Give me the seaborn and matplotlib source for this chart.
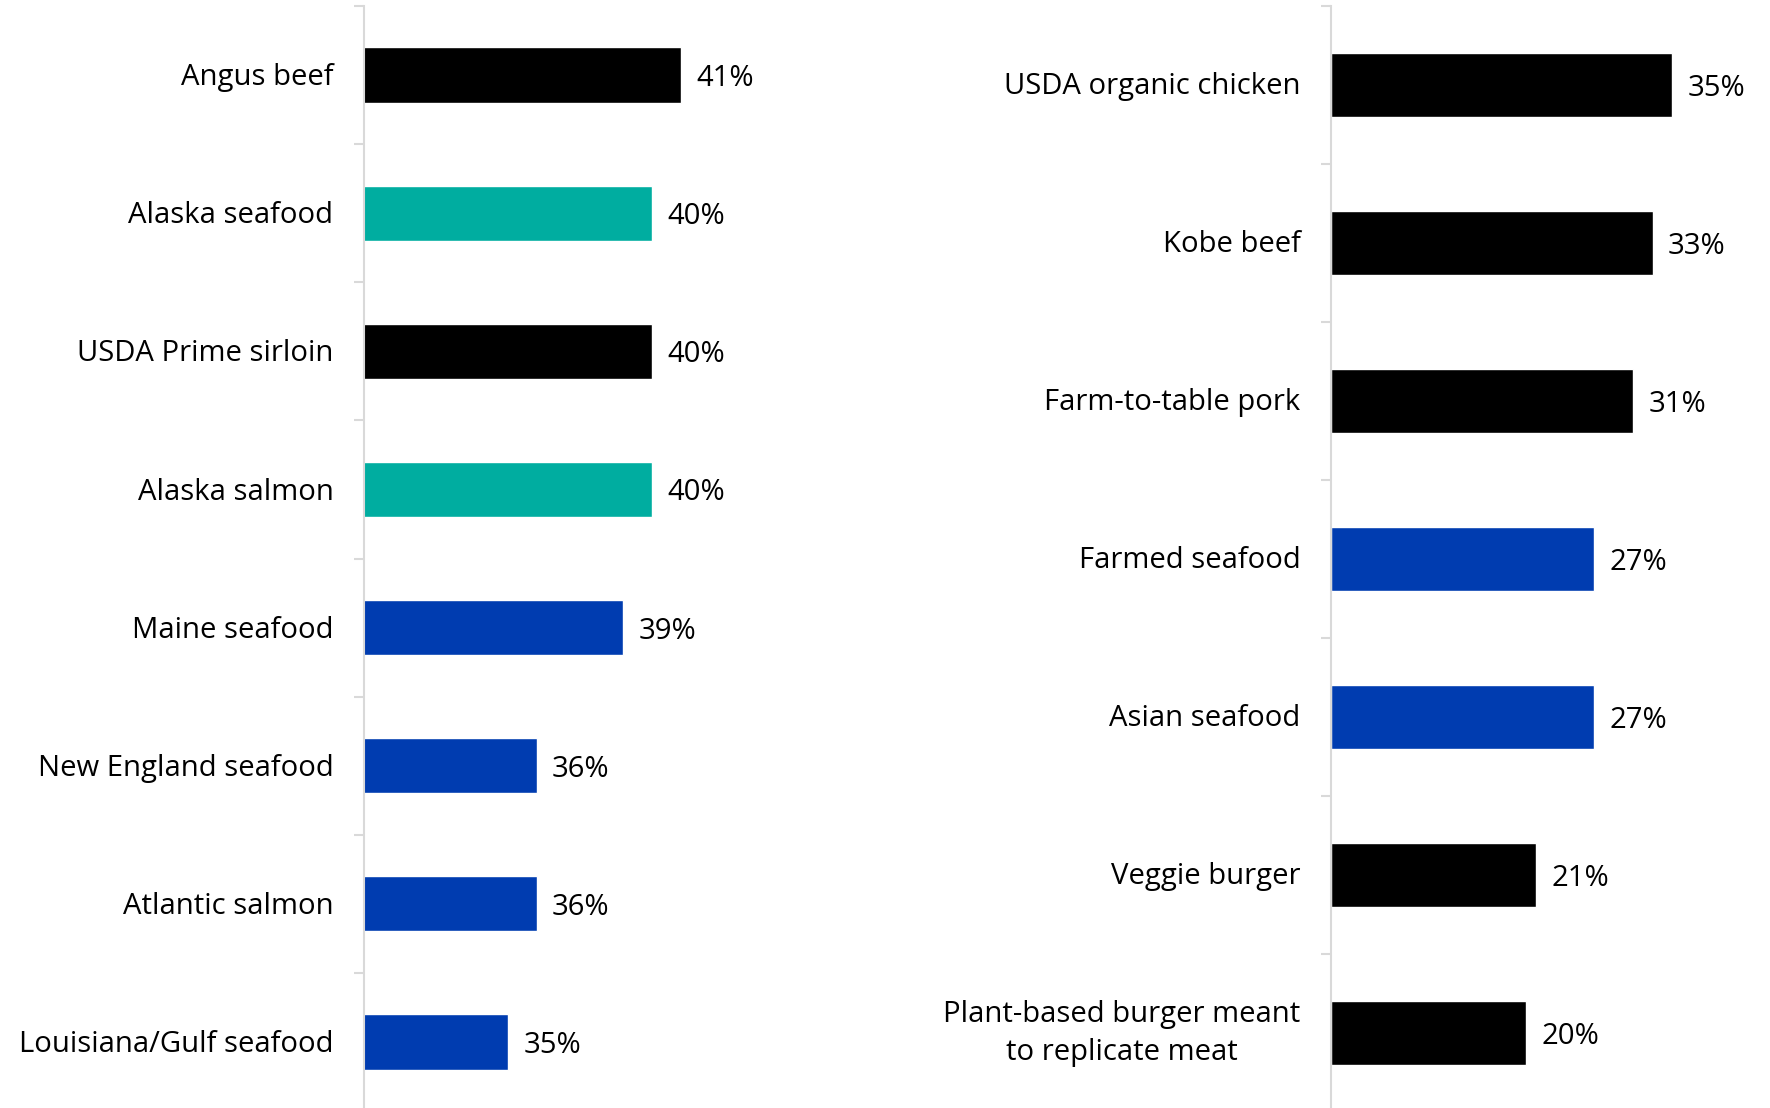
import matplotlib
matplotlib.use("Agg")
import matplotlib.pyplot as plt
import matplotlib.transforms as mtransforms
import seaborn as sns
import pandas as pd
import numpy as np

# Left panel
left_items = ["Angus beef", "Alaska seafood", "USDA Prime sirloin", "Alaska salmon",
              "Maine seafood", "New England seafood", "Atlantic salmon",
              "Louisiana/Gulf seafood"]
left_values = [41, 40, 40, 40, 39, 36, 36, 35]
left_groups = ["meat", "alaska", "meat", "alaska", "seafood", "seafood", "seafood", "seafood"]

# Right panel
right_items = ["USDA organic chicken", "Kobe beef", "Farm-to-table pork", "Farmed seafood",
               "Asian seafood", "Veggie burger",
               "Plant-based burger meant\nto replicate meat"]
right_values = [35, 33, 31, 27, 27, 21, 20]
right_groups = ["meat", "meat", "meat", "seafood", "seafood", "meat", "meat"]

palette = {"meat": "#000000", "alaska": "#00ADA0", "seafood": "#003CB0"}

sns.set_theme(style="white")
plt.rcParams["font.family"] = ["Open Sans", "DejaVu Sans"]

W, H, DPI = 1770, 1108, 100
fig = plt.figure(figsize=(W / DPI, H / DPI), dpi=DPI)
FS = 21.1
spine_col = "#D9D9D9"


def panel(rect_px, items, values, groups, x0, px_per_unit, label_dy=0.0):
    x, y_top, w, y_bot = rect_px
    ax = fig.add_axes([x / W, 1 - y_bot / H, w / W, (y_bot - y_top) / H])
    df = pd.DataFrame({"item": items, "value": values, "group": groups})
    sns.barplot(data=df, y="item", x="value", hue="group", palette=palette,
                orient="h", width=0.4, dodge=False, legend=False, ax=ax,
                saturation=1)
    n = len(items)
    ax.set_xlim(x0, x0 + w / px_per_unit)
    ax.set_ylim(n - 0.5, -0.5)
    for c in ax.containers:
        anns = ax.bar_label(c, labels=[f"{v:g}%" for v in c.datavalues],
                            padding=11, fontsize=FS, color="#000000")
        for a in anns:
            a.set_va("center_baseline")
    for s in ["top", "right", "bottom"]:
        ax.spines[s].set_visible(False)
    ax.spines["left"].set_color(spine_col)
    ax.spines["left"].set_linewidth(1.5)
    ax.set_xticks([])
    ax.set_yticks(np.arange(-0.5, n, 1.0), minor=True)
    ax.tick_params(axis="y", which="minor", length=7, width=1.5,
                   color=spine_col, direction="out", left=True)
    ax.tick_params(axis="y", which="major", length=0, pad=22,
                   labelsize=FS, labelcolor="#000000")
    for lab in ax.get_yticklabels():
        lab.set_multialignment("center")
        lab.set_linespacing(1.37)
        dy = label_dy + (3.5 if "\n" in lab.get_text() else 0.0)
        if dy:
            lab.set_transform(lab.get_transform() +
                              mtransforms.ScaledTranslation(0, dy / 72, fig.dpi_scale_trans))
    ax.set_xlabel("")
    ax.set_ylabel("")
    return ax


panel((364, 6, 520, 1111), left_items, left_values, left_groups, 30, 28.8, 0.6)
panel((1331, 6, 439, 1112), right_items, right_values, right_groups, 0, 9.75, 1.6)

fig.savefig("out.png", dpi=DPI, facecolor="white")
